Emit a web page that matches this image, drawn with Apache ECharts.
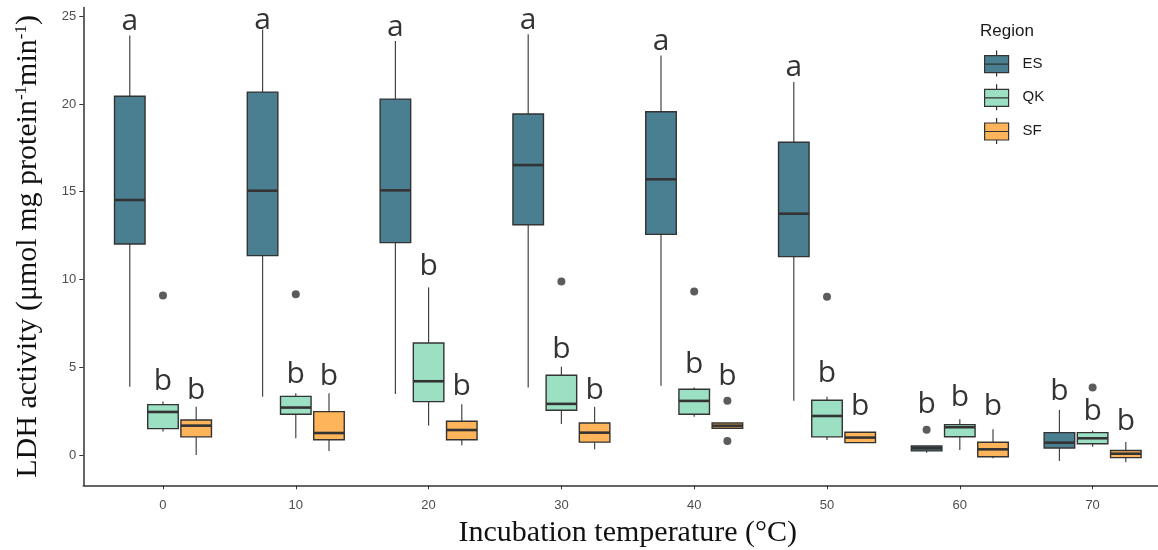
<!DOCTYPE html>
<html>
<head>
<meta charset="utf-8">
<script src="https://cdn.jsdelivr.net/npm/echarts@6/dist/echarts.min.js"></script>
<style>
html, body { margin: 0; padding: 0; background: #fff; }
#chart { width: 1158px; height: 550px; }
</style>
</head>
<body>
<div id="chart"></div>
<script>
// incubation temperatures (x categories)
const temps = [0, 10, 20, 30, 40, 50, 60, 70]
const regions = ['ES', 'QK', 'SF']
const colors = ['#4a7f91', '#9ce0c3', '#fdb45b']
const dodge = [-2.5, 0, 2.5]
const yTicks = [0, 5, 10, 15, 20, 25]

// box stats per temperature: [min, Q1, median, Q3, max]
const esBox = [
  [3.89, 12.02, 14.53, 20.44, 23.9],
  [3.32, 11.36, 15.06, 20.68, 24.25],
  [3.48, 12.1, 15.08, 20.28, 23.59],
  [3.84, 13.12, 16.52, 19.43, 23.97],
  [3.95, 12.57, 15.71, 19.56, 22.77],
  [3.09, 11.3, 13.75, 17.82, 21.25],
  [0.13, 0.23, 0.38, 0.51, 0.51],
  [-0.34, 0.4, 0.7, 1.27, 2.56]
]
const qkBox = [
  [1.33, 1.5, 2.45, 2.87, 3.04],
  [0.95, 2.32, 2.7, 3.34, 3.51],
  [1.67, 3.04, 4.2, 6.38, 9.55],
  [1.77, 2.55, 2.91, 4.54, 5.03],
  [2.18, 2.32, 3.08, 3.74, 3.84],
  [0.85, 1.03, 2.22, 3.12, 3.32],
  [0.28, 1.04, 1.58, 1.73, 2.03],
  [0.47, 0.64, 0.95, 1.27, 1.38]
]
const sfBox = [
  [0, 1.03, 1.67, 1.99, 2.75],
  [0.23, 0.87, 1.25, 2.47, 3.51],
  [0.55, 0.87, 1.42, 1.92, 2.89],
  [0.32, 0.73, 1.27, 1.82, 2.74],
  [1.52, 1.52, 1.67, 1.82, 1.82],
  [0.7, 0.7, 0.99, 1.29, 1.29],
  [-0.19, -0.1, 0.32, 0.72, 1.46],
  [-0.42, -0.15, 0.07, 0.25, 0.74]
]

// outliers: [temperature, value]
const esOut = [[60, 1.44]]
const qkOut = [[0, 9.08], [10, 9.16], [30, 9.88], [40, 9.31], [50, 9.02], [70, 3.84]]
const sfOut = [[40, 3.09], [40, 0.8]]

// significance letters and their baseline height
const esLetters = ['a', 'a', 'a', 'a', 'a', 'a', 'b', 'b']
const esLetterY = [24.12, 24.2, 23.8, 24.2, 23.0, 21.5, 2.32, 3.04]
const qkLetters = ['b', 'b', 'b', 'b', 'b', 'b', 'b', 'b']
const qkLetterY = [3.61, 3.99, 10.15, 5.47, 4.56, 4.08, 2.7, 1.92]
const sfLetters = ['b', 'b', 'b', 'b', 'b', 'b', 'b', 'b']
const sfLetterY = [3.09, 3.89, 3.32, 3.13, 3.89, 2.18, 2.18, 1.33]

const boxes = [esBox, qkBox, sfBox]
const outs = [esOut, qkOut, sfOut]
const letters = [esLetters, qkLetters, sfLetters]
const letterY = [esLetterY, qkLetterY, sfLetterY]

const boxWidth = 2.3

function renderBox(params, api) {
  const x = api.value(0)
  const half = api.size([boxWidth / 2, 0])[0]
  const pMin = api.coord([x, api.value(1)])
  const pQ1 = api.coord([x, api.value(2)])
  const pMed = api.coord([x, api.value(3)])
  const pQ3 = api.coord([x, api.value(4)])
  const pMax = api.coord([x, api.value(5)])
  const whisker = { stroke: '#444', lineWidth: 1.2 }
  return {
    type: 'group',
    children: [
      { type: 'line', shape: { x1: pMax[0], y1: pMax[1], x2: pQ3[0], y2: pQ3[1] }, style: whisker },
      { type: 'line', shape: { x1: pQ1[0], y1: pQ1[1], x2: pMin[0], y2: pMin[1] }, style: whisker },
      {
        type: 'rect',
        shape: { x: pQ3[0] - half, y: pQ3[1], width: half * 2, height: pQ1[1] - pQ3[1] },
        style: { fill: api.visual('color'), stroke: '#333', lineWidth: 1.4 }
      },
      {
        type: 'line',
        shape: { x1: pMed[0] - half, y1: pMed[1], x2: pMed[0] + half, y2: pMed[1] },
        style: { stroke: '#333', lineWidth: 2.6 }
      }
    ]
  }
}

const series = []
regions.forEach(function(name, r) {
  series.push({
    name: name,
    type: 'custom',
    renderItem: renderBox,
    itemStyle: { color: colors[r] },
    encode: { x: 0, y: [1, 2, 3, 4, 5] },
    data: boxes[r].map(function(b, i) { return [temps[i] + dodge[r]].concat(b) }),
    z: 2
  })
})
regions.forEach(function(name, r) {
  series.push({
    name: name + ' outliers',
    type: 'scatter',
    symbolSize: 8,
    itemStyle: { color: '#333' },
    data: outs[r].map(function(p) { return [p[0] + dodge[r], p[1]] }),
    z: 3
  })
  series.push({
    name: name + ' letters',
    type: 'scatter',
    symbolSize: 0,
    silent: true,
    label: {
      show: true,
      position: 'top',
      distance: 0,
      offset: [0, 5],
      fontFamily: 'Open Sans',
      fontSize: 30,
      color: '#000',
      formatter: function(p) { return p.value[2] }
    },
    data: letterY[r].map(function(y, i) { return [temps[i] + dodge[r], y, letters[r][i]] }),
    z: 4
  })
})

const legendIcon = 'path://M13,0L13,5M1,5L25,5L25,22L1,22ZM1,13.5L25,13.5M13,22L13,26'

const chart = echarts.init(document.getElementById('chart'))
chart.setOption({
  animation: false,
  backgroundColor: '#fff',
  title: {
    text: 'Region',
    left: 975,
    top: 18,
    textStyle: { fontFamily: 'Liberation Sans', fontSize: 17, fontWeight: 'normal', color: '#1a1a1a' }
  },
  legend: {
    orient: 'vertical',
    left: 979,
    top: 45,
    itemWidth: 26,
    itemHeight: 26,
    itemGap: 6.5,
    icon: legendIcon,
    itemStyle: { borderColor: '#333', borderWidth: 1.2 },
    textStyle: { fontFamily: 'Liberation Sans', fontSize: 15, color: '#1a1a1a', padding: [0, 0, 0, 8] },
    data: regions
  },
  grid: { left: 83.3, top: 7.5, width: 1089, bottom: 64.7, outerBoundsMode: 'none' },
  xAxis: {
    type: 'value',
    min: -6,
    max: 76,
    name: 'Incubation temperature (°C)',
    nameLocation: 'middle',
    nameGap: 33,
    nameTextStyle: { fontFamily: 'Liberation Serif', fontSize: 30, color: '#111' },
    splitLine: { show: false },
    axisLine: { show: true, onZero: false, lineStyle: { color: '#333', width: 1.5 } },
    axisTick: { show: true, length: 4, customValues: temps, lineStyle: { color: '#333' } },
    axisLabel: {
      customValues: temps,
      margin: 14,
      fontFamily: 'Liberation Sans',
      fontSize: 13,
      color: '#4d4d4d'
    }
  },
  yAxis: {
    type: 'value',
    min: -1.73,
    max: 25.5,
    name: 'LDH activity (μmol mg protein{sup|-1}min{sup|-1})',
    nameLocation: 'middle',
    nameGap: 40,
    nameTextStyle: {
      fontFamily: 'Liberation Serif',
      fontSize: 30,
      color: '#111',
      rich: { sup: { fontFamily: 'Liberation Serif', fontSize: 17, verticalAlign: 'top', color: '#111' } }
    },
    splitLine: { show: false },
    axisLine: { show: true, onZero: false, lineStyle: { color: '#333', width: 1.5 } },
    axisTick: { show: true, length: 4, customValues: yTicks, lineStyle: { color: '#333' } },
    axisLabel: {
      customValues: yTicks,
      margin: 7,
      fontFamily: 'Liberation Sans',
      fontSize: 13,
      color: '#4d4d4d'
    }
  },
  series: series
})
</script>
</body>
</html>
